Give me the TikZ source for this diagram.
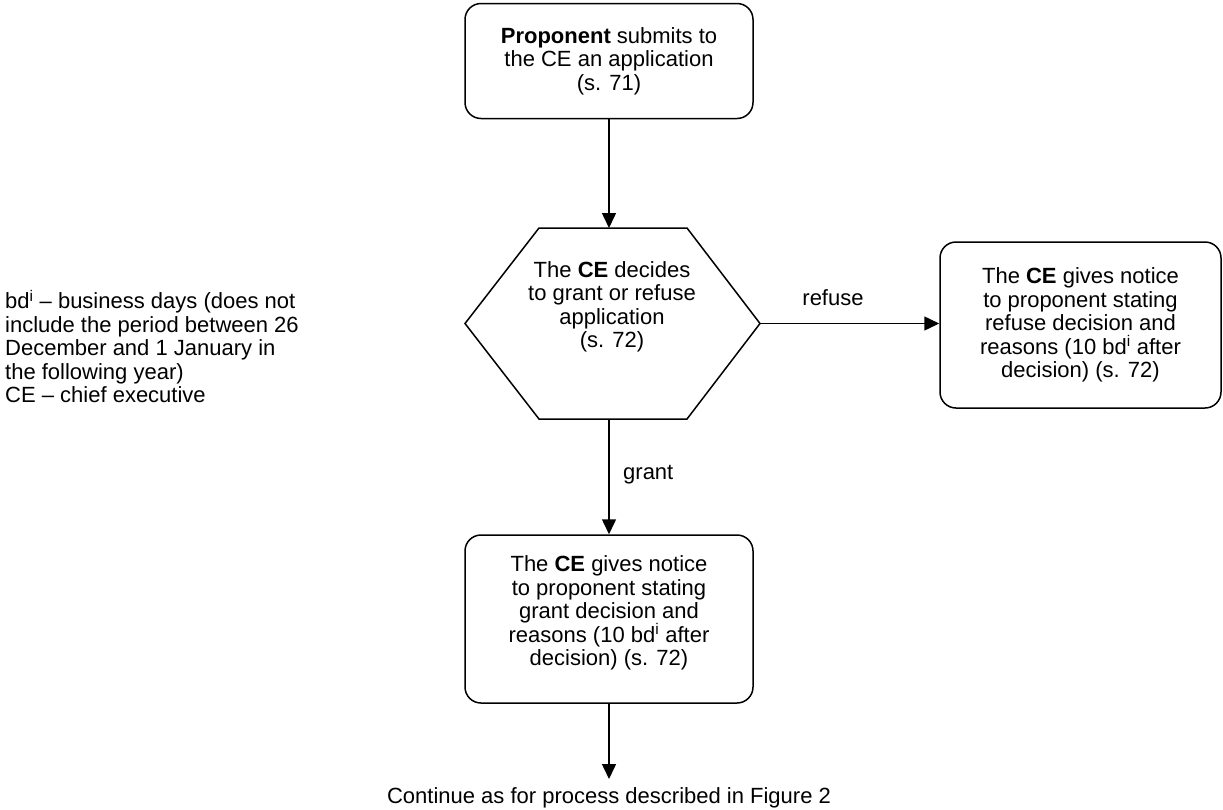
\documentclass[tikz,border=0pt]{standalone}
\usepackage{fontspec}
\setmainfont{Liberation Sans}
\usetikzlibrary{arrows.meta}
\begin{document}
\begin{tikzpicture}[x=1pt,y=-1pt,
  every node/.style={font=\fontsize{22}{23.5}\selectfont},
  box/.style={draw,line width=1.5pt,rounded corners=16pt,align=center,inner sep=0pt},
  arr/.style={line width=1.5pt,-{Triangle[length=15pt,width=14pt]}},
  lbl/.style={inner sep=0pt},
  hexline/.style={line width=1.5pt,line join=miter}]
\useasboundingbox (0,0) rectangle (1223,809);
% legend
\node[lbl,align=left,anchor=north west] (leg) at (5,290) {bd\textsuperscript{i} -- business days (does not\\include the period between 26\\December and 1 January in\\the following year)\\CE -- chief executive};
% box 1
\node[box,minimum width=288pt,minimum height=115pt] (p) at (609,61) {\textbf{Proponent} submits to\\the CE an application\\(s. 71)};
% hexagon
\coordinate (hL) at (465,323.5);
\coordinate (hTL) at (539,228);
\coordinate (hTR) at (687,228);
\coordinate (hR) at (760,323.5);
\coordinate (hBR) at (687,419);
\coordinate (hBL) at (539,419);
\coordinate (hT) at (609,228);
\coordinate (hB) at (609,419);
\draw[hexline] (hL) -- (hTL) -- (hTR) -- (hR) -- (hBR) -- (hBL) -- cycle;
\node[lbl,align=center] (d) at (612,307) {The \textbf{CE} decides\\to grant or refuse\\application\\(s. 72)};
% box refuse
\node[box,minimum width=281pt,minimum height=166pt] (r) at (1080.5,325) {The \textbf{CE} gives notice\\to proponent stating\\refuse decision and\\reasons (10 bd\textsuperscript{i} after\\decision) (s. 72)};
% box grant
\node[box,minimum width=288pt,minimum height=168pt] (g) at (609,619) {};
\node[lbl,align=center] (gt) at (609,613) {The \textbf{CE} gives notice\\to proponent stating\\grant decision and\\reasons (10 bd\textsuperscript{i} after\\decision) (s. 72)};
% continue text
\node[lbl,anchor=base] (cont) at (609,803) {Continue as for process described in Figure 2};
\coordinate (c) at (609,779);
% connectors
\draw[arr] (p.south) -- (hT);
\draw[arr] (hR) -- (hR -| r.west);
\node[lbl] (lref) at (833,298) {refuse};
\draw[arr] (hB) -- (hB |- g.north);
\node[lbl,anchor=west] (lgr) at (623,475) {grant};
\draw[arr] (g.south) -- (c);
\end{tikzpicture}
\end{document}
